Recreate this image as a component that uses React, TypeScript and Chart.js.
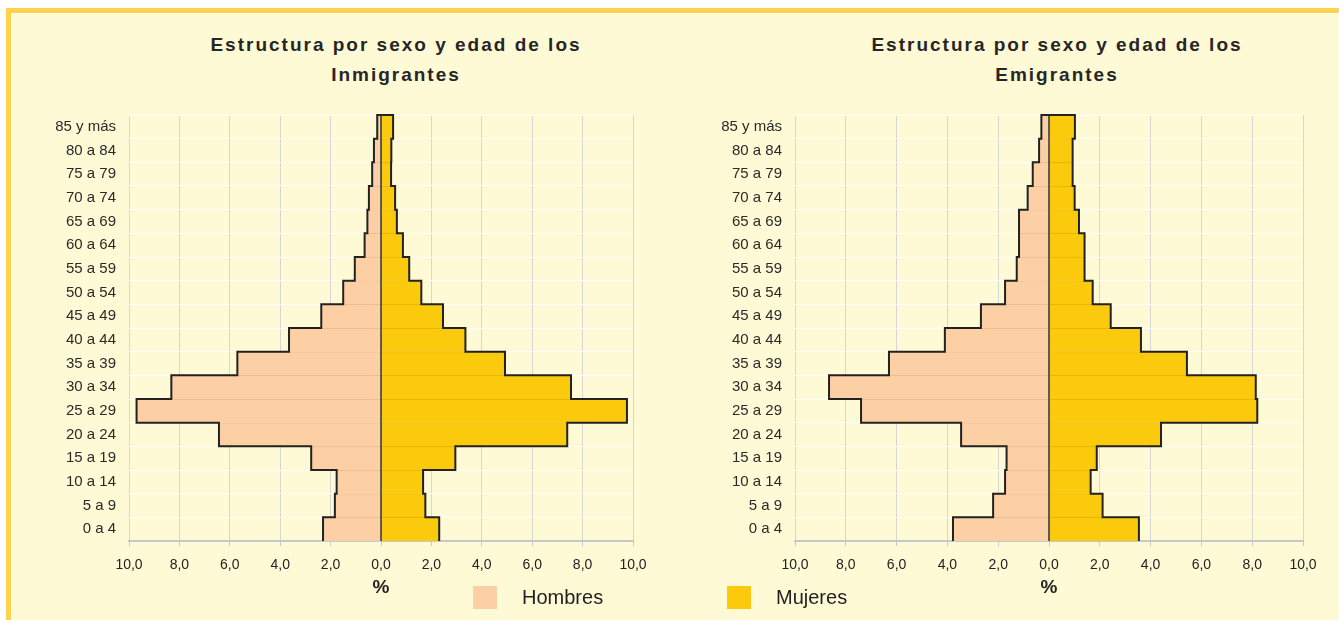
import React, { useEffect, useRef } from "react";
import { Chart, registerables } from "chart.js";

Chart.register(...registerables);

// ---------- data ----------
const AGE_GROUPS = [
  "0 a 4", "5 a 9", "10 a 14", "15 a 19", "20 a 24", "25 a 29", "30 a 34", "35 a 39", "40 a 44",
  "45 a 49", "50 a 54", "55 a 59", "60 a 64", "65 a 69", "70 a 74", "75 a 79", "80 a 84", "85 y más",
];
const INMIG_HOMBRES = [2.3, 1.83, 1.76, 2.77, 6.43, 9.7, 8.32, 5.7, 3.65, 2.37, 1.5, 1.04, 0.65, 0.54, 0.48, 0.35, 0.28, 0.15];
const INMIG_MUJERES = [2.31, 1.76, 1.67, 2.95, 7.39, 9.76, 7.54, 4.92, 3.35, 2.46, 1.6, 1.12, 0.87, 0.63, 0.56, 0.4, 0.41, 0.48];
const EMIG_HOMBRES = [3.78, 2.2, 1.73, 1.67, 3.46, 7.4, 8.66, 6.3, 4.1, 2.68, 1.73, 1.27, 1.18, 1.18, 0.84, 0.64, 0.39, 0.3];
const EMIG_MUJERES = [3.54, 2.11, 1.64, 1.88, 4.41, 8.2, 8.14, 5.43, 3.62, 2.43, 1.72, 1.4, 1.4, 1.18, 1.01, 0.93, 0.93, 1.02];
const SERIES_NAMES = ["Hombres", "Mujeres"];
const TITLE_LINE_1 = "Estructura por sexo y edad de los";
const INMIG_TITLE_2 = "Inmigrantes";
const EMIG_TITLE_2 = "Emigrantes";
const AXIS_TITLE = "%";
const X_MIN = -10;
const X_MAX = 10;
const X_STEP = 2;

// ---------- style ----------
const FONT = '"Liberation Sans", Arial, sans-serif';
const COLOR_H = "#FDCFA5";
const COLOR_M = "#FCCA0C";
const SEP_H = "#E9B88E";
const SEP_M = "#E2B200";
const BG = "#FFFAD6";
const BORDER = "#FFD24E";

const outlinePlugin = {
  id: "pyramidOutline",
  afterDatasetsDraw(chart: any) {
    const ctx = chart.ctx;
    const xScale = chart.scales.x;
    const area = chart.chartArea;
    const base = xScale.getPixelForValue(0);
    chart.data.datasets.forEach((_ds: any, di: number) => {
      const els = chart.getDatasetMeta(di).data;
      if (!els.length) return;
      ctx.save();
      ctx.beginPath();
      const e0 = els[0];
      ctx.moveTo(e0.x, e0.y + e0.height / 2);
      for (let i = 0; i < els.length; i++) {
        const e = els[i];
        const top = e.y - e.height / 2;
        ctx.lineTo(e.x, top);
        if (i < els.length - 1) ctx.lineTo(els[i + 1].x, top);
        else ctx.lineTo(base, top);
      }
      ctx.lineWidth = 2;
      ctx.strokeStyle = "#222222";
      ctx.lineJoin = "miter";
      ctx.stroke();
      ctx.restore();
    });
    ctx.save();
    ctx.beginPath();
    ctx.moveTo(base, area.top);
    ctx.lineTo(base, area.bottom);
    ctx.lineWidth = 1.5;
    ctx.strokeStyle = "#2C2C3A";
    ctx.stroke();
    ctx.restore();
  },
};

function Pyramid({ hombres, mujeres, padRight }: { hombres: number[]; mujeres: number[]; padRight: number }) {
  const ref = useRef<HTMLCanvasElement | null>(null);
  useEffect(() => {
    if (!ref.current) return;
    const chart = new Chart(ref.current, {
      type: "bar",
      data: {
        labels: AGE_GROUPS,
        datasets: [
          {
            label: SERIES_NAMES[0],
            data: hombres.map((v) => -v),
            backgroundColor: COLOR_H,
            borderColor: SEP_H,
            borderWidth: { top: 1, bottom: 0, left: 0, right: 0 } as any,
            barPercentage: 1,
            categoryPercentage: 1,
          },
          {
            label: SERIES_NAMES[1],
            data: mujeres,
            backgroundColor: COLOR_M,
            borderColor: SEP_M,
            borderWidth: { top: 1, bottom: 0, left: 0, right: 0 } as any,
            barPercentage: 1,
            categoryPercentage: 1,
          },
        ],
      },
      options: {
        indexAxis: "y",
        responsive: false,
        animation: false,
        layout: { padding: { top: 15, bottom: 0, left: 0, right: padRight } },
        plugins: {
          legend: { display: false },
          tooltip: { enabled: false },
          title: { display: false },
        },
        scales: {
          x: {
            type: "linear",
            stacked: true,
            min: X_MIN,
            max: X_MAX,
            ticks: {
              stepSize: X_STEP,
              color: "#222222",
              font: { family: FONT, size: 14 },
              padding: 11,
              callback: (v: any) => Math.abs(Number(v)).toFixed(1).replace(".", ","),
            },
            grid: { color: "#D6D6D6", lineWidth: 1, tickLength: 5, tickColor: "#C8C8C8" },
            border: { display: true, color: "#C8C8C8", width: 2 },
            title: {
              display: true,
              text: AXIS_TITLE,
              color: "#222222",
              font: { family: FONT, size: 19, weight: "bold" },
              padding: { top: 0, bottom: 11 },
            },
            afterFit: (s: any) => {
              s.height = 69;
              s.paddingLeft = 0;
              s.paddingRight = 0;
            },
          },
          y: {
            stacked: true,
            reverse: true,
            ticks: {
              color: "#2A2A2A",
              font: { family: FONT, size: 15 },
              padding: 13,
              autoSkip: false,
            },
            grid: { color: "#FFFFFF", lineWidth: 1, drawTicks: false, offset: true },
            border: { display: false },
            afterFit: (s: any) => {
              s.width = 89;
              s.paddingTop = 0;
              s.paddingBottom = 0;
            },
          },
        },
      } as any,
      plugins: [outlinePlugin],
    });
    return () => chart.destroy();
  }, [hombres, mujeres, padRight]);
  return <canvas ref={ref} width={640} height={510} style={{ display: "block", width: 640, height: 510 }} />;
}

const titleStyle: React.CSSProperties = {
  position: "absolute",
  width: 600,
  textAlign: "center",
  fontFamily: FONT,
  fontWeight: "bold",
  fontSize: 19,
  letterSpacing: "2px",
  lineHeight: "30px",
  color: "#262626",
};

export default function App() {
  return (
    <div
      style={{
        position: "absolute",
        left: 0,
        top: 0,
        width: 1339,
        height: 620,
        background: "#FFFFFF",
        overflow: "hidden",
        fontFamily: FONT,
      }}
    >
      <div style={{ position: "absolute", left: 6, top: 8, right: 0, bottom: 0, background: BORDER }} />
      <div style={{ position: "absolute", left: 11, top: 13, right: 0, bottom: 0, background: "#FFFFFF" }} />
      <div style={{ position: "absolute", left: 12, top: 14, right: 0, bottom: 0, background: BG }} />

      <div style={{ ...titleStyle, left: 96, top: 30 }}>
        {TITLE_LINE_1}
        <br />
        {INMIG_TITLE_2}
      </div>
      <div style={{ ...titleStyle, left: 757, top: 30 }}>
        {TITLE_LINE_1}
        <br />
        {EMIG_TITLE_2}
      </div>

      <div style={{ position: "absolute", left: 40, top: 100 }}>
        <Pyramid hombres={INMIG_HOMBRES} mujeres={INMIG_MUJERES} padRight={47} />
      </div>
      <div style={{ position: "absolute", left: 706, top: 100 }}>
        <Pyramid hombres={EMIG_HOMBRES} mujeres={EMIG_MUJERES} padRight={43} />
      </div>

      <div style={{ position: "absolute", left: 473, top: 586, width: 24, height: 23, background: COLOR_H }} />
      <div style={{ position: "absolute", left: 522, top: 584, fontSize: 20, lineHeight: "26px", color: "#222222" }}>
        {SERIES_NAMES[0]}
      </div>
      <div style={{ position: "absolute", left: 727, top: 586, width: 24, height: 23, background: COLOR_M }} />
      <div style={{ position: "absolute", left: 776, top: 584, fontSize: 20, lineHeight: "26px", color: "#222222" }}>
        {SERIES_NAMES[1]}
      </div>
    </div>
  );
}
